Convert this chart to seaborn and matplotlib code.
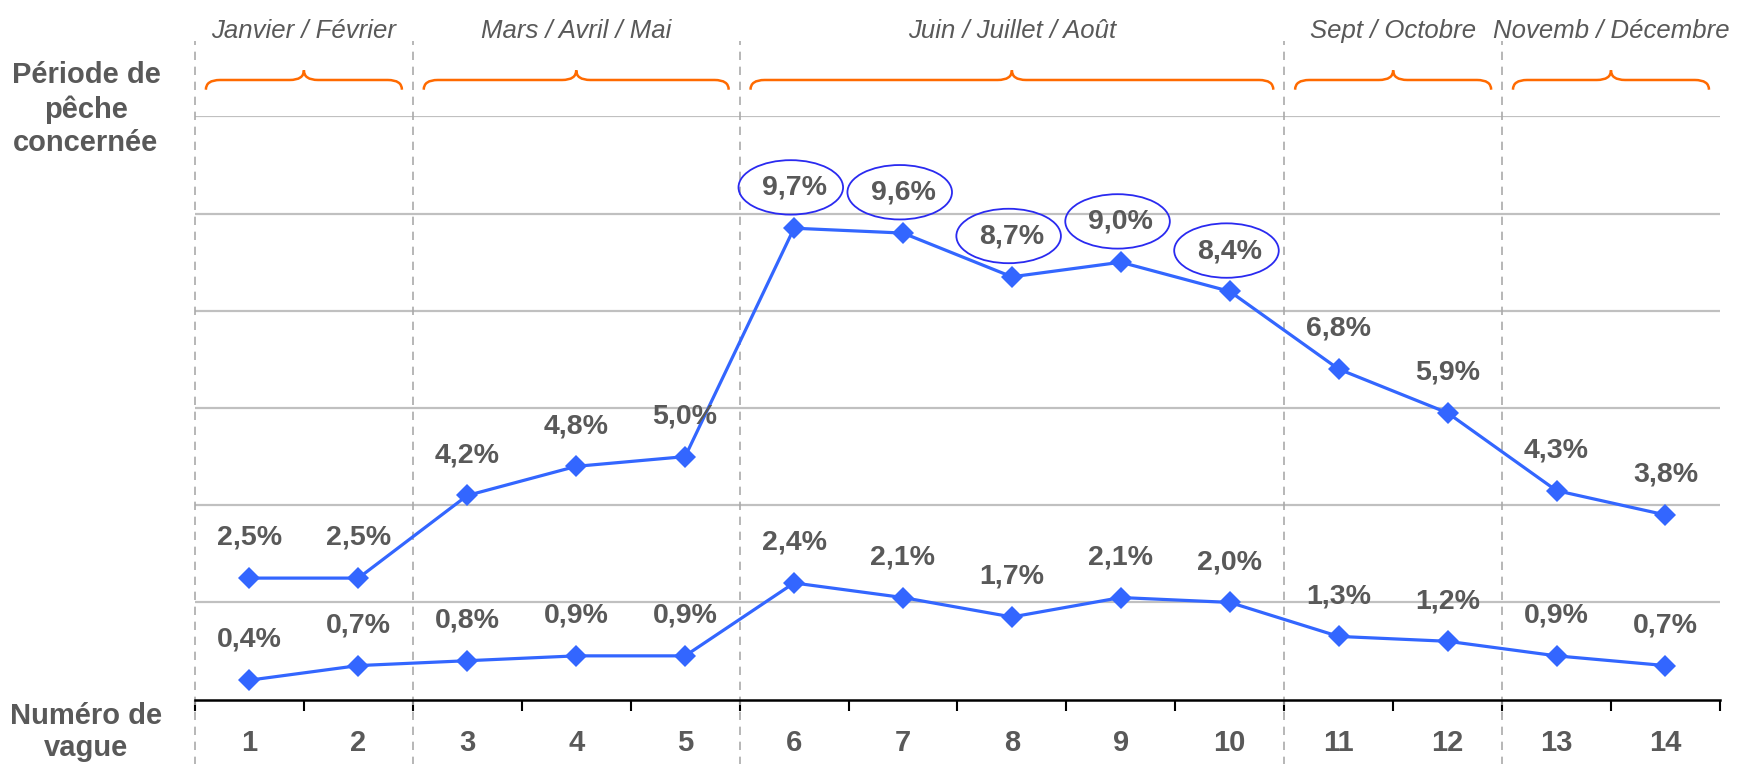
import matplotlib
matplotlib.use('Agg')
import matplotlib.pyplot as plt
import numpy as np
import pandas as pd
import seaborn as sns
from matplotlib.patches import Ellipse, PathPatch
from matplotlib.path import Path

sns.set_style('white')
plt.rcParams['font.family'] = ['Liberation Sans', 'DejaVu Sans']

# ---------------------------------------------------------------- data
waves = list(range(1, 15))
upper = [2.5, 2.5, 4.2, 4.8, 5.0, 9.7, 9.6, 8.7, 9.0, 8.4, 6.8, 5.9, 4.3, 3.8]
lower = [0.4, 0.7, 0.8, 0.9, 0.9, 2.4, 2.1, 1.7, 2.1, 2.0, 1.3, 1.2, 0.9, 0.7]
highlight = [6, 7, 8, 9, 10]   # upper labels circled

periods = ['Janvier / Février', 'Mars / Avril / Mai', 'Juin / Juillet / Août',
           'Sept / Octobre', 'Novemb / Décembre']
period_first = [1, 3, 6, 11, 13]
period_last = [2, 5, 10, 12, 14]

# ---------------------------------------------------------------- style
blue = '#3366FF'
ring = '#2a2aF0'
orange = '#FF6A00'
grey_txt = '#595959'
grid_col = '#C0C0C0'
dash_col = '#AAAAAA'

fig = plt.figure(figsize=(17.55, 7.64), dpi=100)
ax = fig.add_axes([0.1111, 0.0843, 0.8689, 0.7633])

df = pd.DataFrame({'vague': waves * 2,
                   'valeur': upper + lower,
                   'serie': ['haut'] * 14 + ['bas'] * 14})
sns.lineplot(data=df, x='vague', y='valeur', units='serie', estimator=None,
             color=blue, marker='D', markersize=11, markeredgewidth=0,
             linewidth=2.3, ax=ax, zorder=5)

ax.set_xlim(0.5, 14.5)
ax.set_ylim(0, 12)
ax.set_xlabel('')
ax.set_ylabel('')
ax.set_yticks(np.arange(2, 13, 2))
ax.set_yticklabels([])
ax.tick_params(axis='y', length=0)
ax.yaxis.grid(True, color=grid_col, linewidth=1.6)
ax.xaxis.grid(False)
for s in ['left', 'right', 'top']:
    ax.spines[s].set_visible(False)
ax.spines['bottom'].set_color('black')
ax.spines['bottom'].set_linewidth(1.8)

ax.set_xticks(waves)
ax.set_xticklabels([str(w) for w in waves], fontsize=21, fontweight='bold',
                   color=grey_txt)
ax.set_xticks(np.arange(0.5, 15, 1), minor=True)
ax.tick_params(axis='x', which='major', bottom=True, length=0, pad=21)
ax.tick_params(axis='x', which='minor', bottom=True, length=8, width=1.5,
               color='black', direction='out')

# value labels
for x, v in zip(waves, upper):
    ax.annotate(f'{v:.1f}%'.replace('.', ','), (x, v), xytext=(0, 29),
                textcoords='offset points', ha='center', va='center',
                fontsize=20.5, fontweight='bold', color=grey_txt, zorder=6)
    if x in highlight:
        ax.add_patch(Ellipse((x - 0.03, v + 0.84), 0.96, 1.12, fill=False,
                             edgecolor=ring, linewidth=1.3, zorder=6))
for x, v in zip(waves, lower):
    ax.annotate(f'{v:.1f}%'.replace('.', ','), (x, v), xytext=(0, 29),
                textcoords='offset points', ha='center', va='center',
                fontsize=20.5, fontweight='bold', color=grey_txt, zorder=6)

# period separators, braces and names
bounds = [f - 0.5 for f in period_first]
for b in bounds:
    ax.plot([b, b], [-1.5, 13.55], color=dash_col, linestyle=(0, (5, 4)),
            linewidth=1.2, clip_on=False, zorder=1)


def brace(x0, x1, yb=12.75, d=0.2):
    xm = (x0 + x1) / 2
    w = 0.13
    verts = [(x0, yb - d), (x0, yb), (x0 + w, yb),
             (xm - w, yb), (xm, yb), (xm, yb + d),
             (xm, yb), (xm + w, yb),
             (x1 - w, yb), (x1, yb), (x1, yb - d)]
    codes = [Path.MOVETO, Path.CURVE3, Path.CURVE3,
             Path.LINETO, Path.CURVE3, Path.CURVE3,
             Path.CURVE3, Path.CURVE3,
             Path.LINETO, Path.CURVE3, Path.CURVE3]
    return PathPatch(Path(verts, codes), fill=False, edgecolor=orange,
                     linewidth=1.8, clip_on=False)


for name, f, l in zip(periods, period_first, period_last):
    ax.add_patch(brace(f - 0.5 + 0.1, l + 0.5 - 0.1))
    ax.text((f + l) / 2, 13.76, name, ha='center', va='center', fontsize=18.5,
            style='italic', color=grey_txt, clip_on=False)

fig.text(0.049, 0.857, 'Période de\npêche\nconcernée', ha='center',
         va='center', fontsize=21, fontweight='bold', color=grey_txt,
         linespacing=1.25)
fig.text(0.049, 0.042, 'Numéro de\nvague', ha='center', va='center',
         fontsize=21, fontweight='bold', color=grey_txt, linespacing=1.15)

fig.savefig('out.png', dpi=100)
